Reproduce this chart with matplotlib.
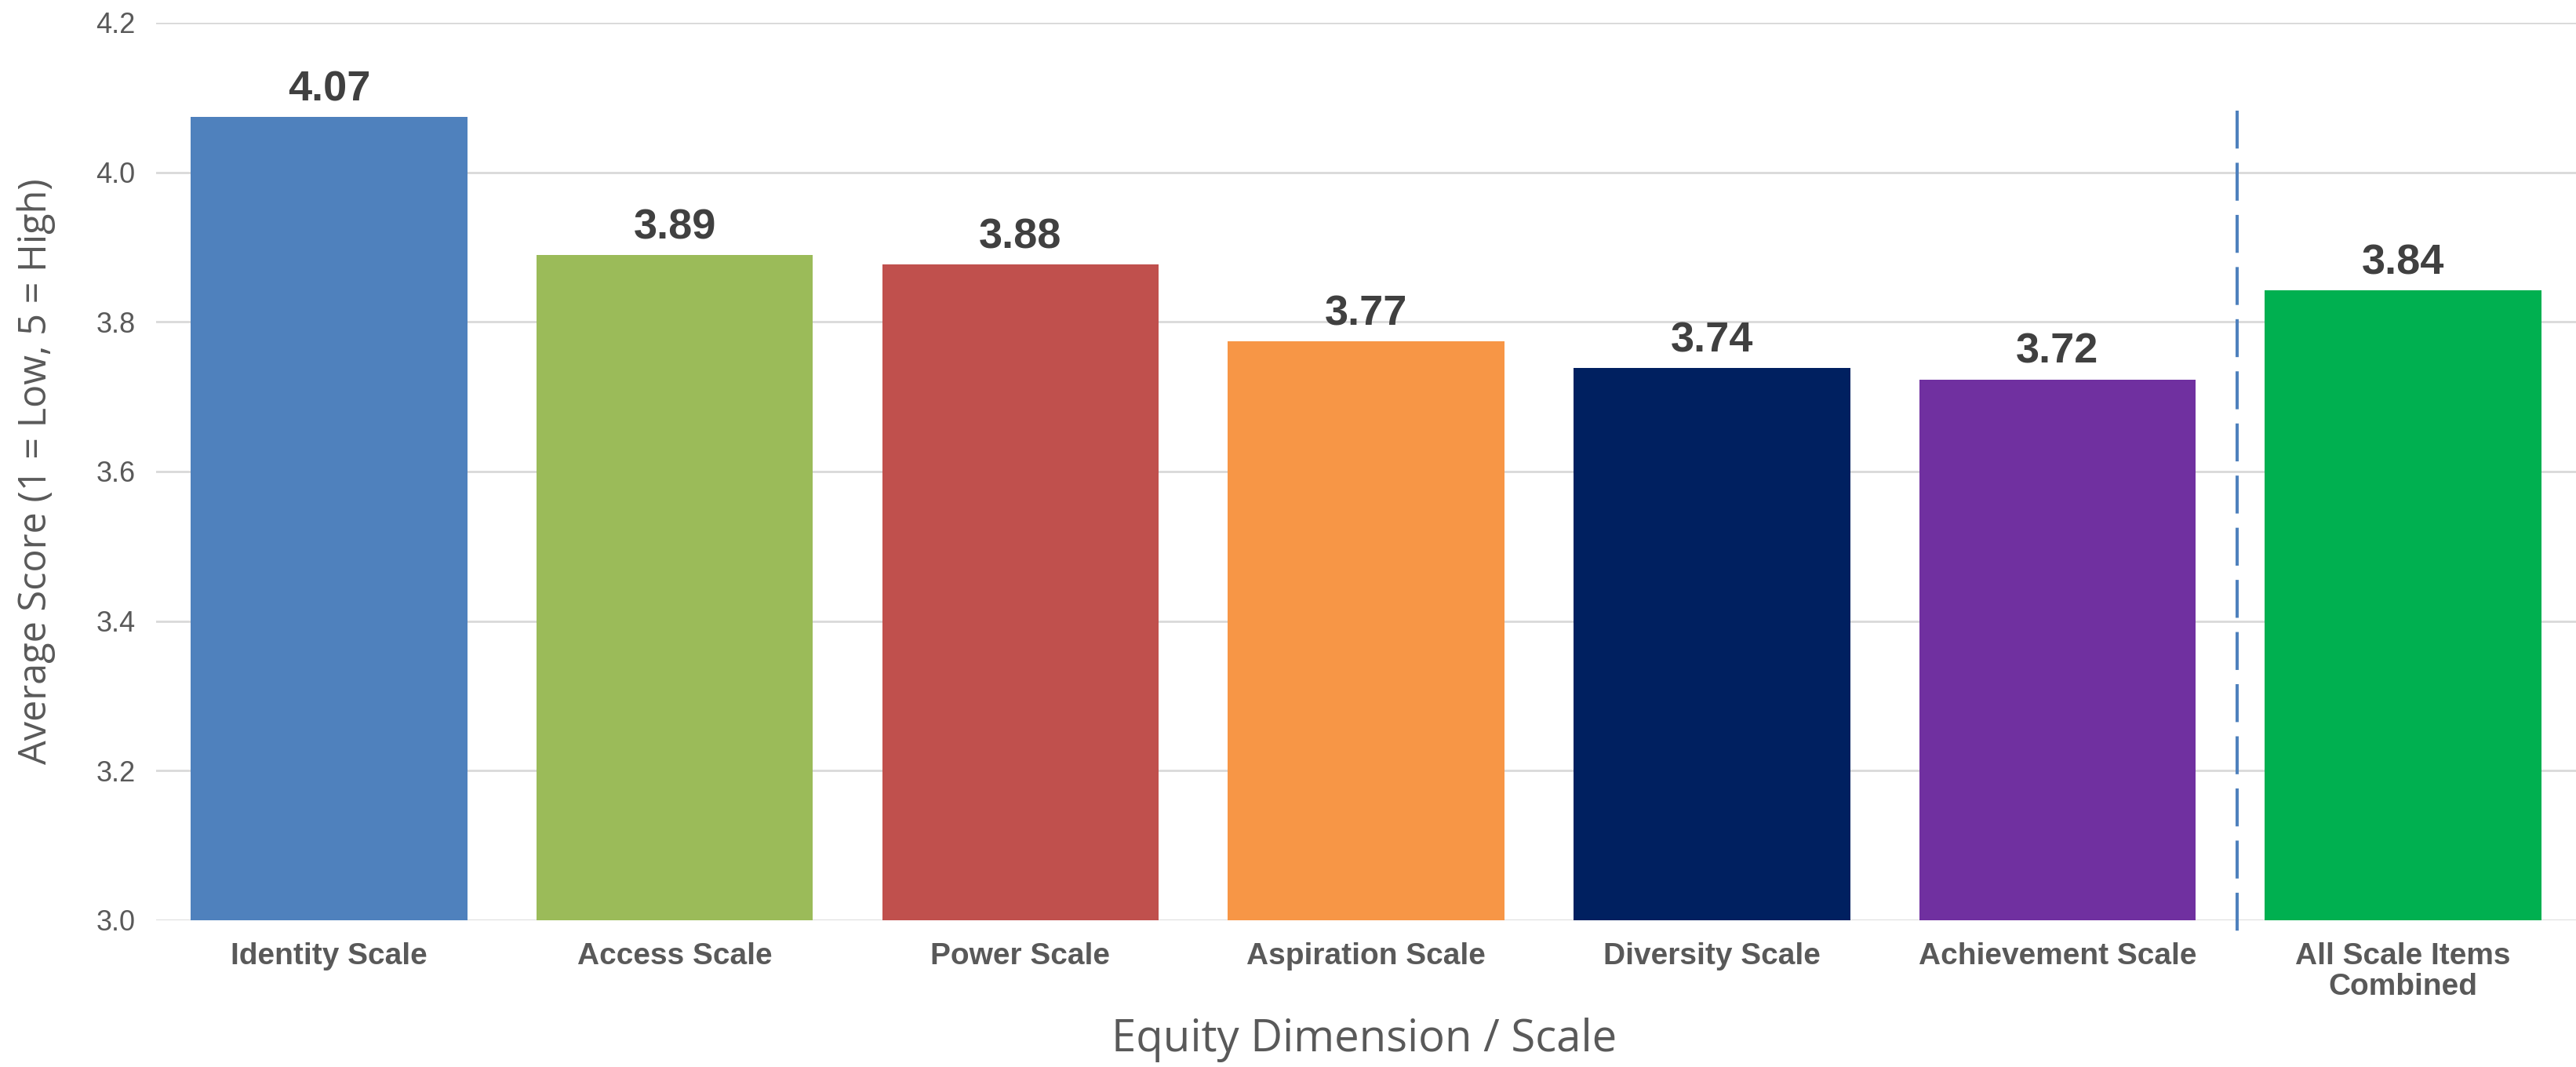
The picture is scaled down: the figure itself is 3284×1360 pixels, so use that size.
import matplotlib.pyplot as plt
from matplotlib import font_manager

# Scale averages
scales = ['Identity Scale', 'Access Scale', 'Power Scale', 'Aspiration Scale',
          'Diversity Scale', 'Achievement Scale', 'All Scale Items\nCombined']
scores = [4.074, 3.889, 3.877, 3.774, 3.738, 3.723, 3.842]
colors = ['#4F81BD', '#9BBB59', '#C0504D', '#F79646', '#002060', '#7030A0', '#00B050']

names = {f.name for f in font_manager.fontManager.ttflist}
narrow = 'Liberation Sans Narrow' if 'Liberation Sans Narrow' in names else 'Liberation Sans'

fig = plt.figure(figsize=(32.84, 13.6), dpi=100)
ax = fig.add_axes([0.0606, 0.1375, 0.9394, 0.8412])

x = range(len(scales))
ax.bar(x, [s - 3.0 for s in scores], bottom=3.0, width=0.8, color=colors, zorder=3)

for i, s in enumerate(scores):
    ax.annotate(f'{s:.2f}', (i, s), xytext=(0, 15), textcoords='offset points',
                ha='center', va='baseline', fontsize=39, fontweight='bold',
                color='#404040', family=narrow)

# separator before the combined bar
ax.plot([5.52, 5.52], [4.082, 2.973], color='#4F81BD', lw=2.9, dashes=(12, 4.5),
        clip_on=False, zorder=4)

ax.set_xlim(-0.5, 6.5)
ax.set_ylim(3.0, 4.2)
ax.set_yticks([3.0, 3.2, 3.4, 3.6, 3.8, 4.0, 4.2])
ax.set_yticklabels(['3.0', '3.2', '3.4', '3.6', '3.8', '4.0', '4.2'],
                   fontsize=26, color='#595959', family=narrow)
ax.set_xticks(list(x))
ax.set_xticklabels(scales, fontsize=28, fontweight='bold', color='#595959',
                   family=narrow, linespacing=1.1)
ax.tick_params(axis='both', length=0)
ax.tick_params(axis='y', pad=19)
ax.tick_params(axis='x', pad=20)
ax.grid(axis='y', color='#D9D9D9', lw=2, zorder=0)
for sp in ax.spines.values():
    sp.set_visible(False)

fig.text(46 / 3284, 1 - 601 / 1360, 'Average Score (1 = Low, 5 = High)', rotation=90,
         ha='center', va='center', fontsize=35, color='#595959', family='Open Sans')
fig.text(0.5296, 1 - 1326 / 1360, 'Equity Dimension / Scale', ha='center', va='center',
         fontsize=40.5, color='#595959', family='Open Sans')

fig.savefig('out.png', dpi=100, facecolor='white')
